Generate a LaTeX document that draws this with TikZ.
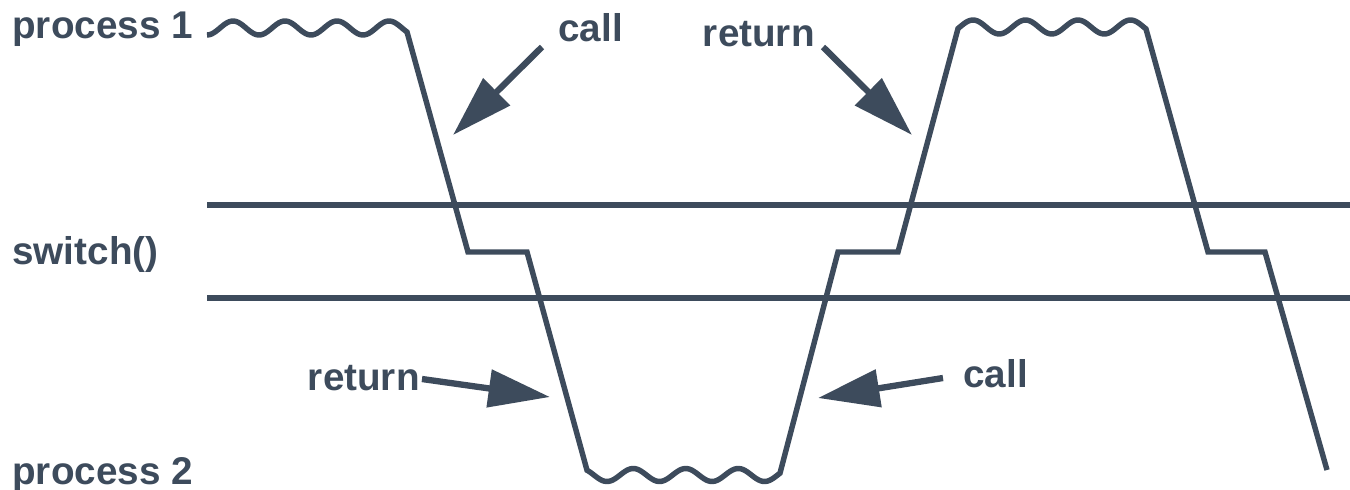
\documentclass[tikz,border=0pt]{standalone}
\usepackage{fontspec}
\setmainfont{Liberation Sans}
\usetikzlibrary{arrows.meta}

\definecolor{slate}{HTML}{3D4B5C}

\tikzstyle{every node}=[inner sep=0pt, text=slate, font=\fontsize{22}{26}\selectfont\bfseries]
\tikzstyle{trace}=[draw=slate, line width=3.1pt, line join=miter]
\tikzstyle{band}=[draw=slate, line width=3.1pt]
\tikzstyle{pointer}=[draw=slate, line width=3.6pt, -{Triangle[length=35pt, width=21pt]}]

\begin{document}
\begin{tikzpicture}[x=0.02cm, y=-0.02cm]
	\useasboundingbox (0,0) rectangle (1350,490);

    % Rows
    \node[anchor=base west] (proc1) at (12,38) {process 1};
    \node[anchor=base west] (sw) at (12,264) {switch()};
    \node[anchor=base west] (proc2) at (12,484) {process 2};

    % switch() band
    \draw[band] (207,205) -- (1350,205);
    \draw[band] (207,298) -- (1350,298);

    % Corners of the trace
    \coordinate (c1) at (468,252);
    \coordinate (c2) at (527,252);
    \coordinate (c3) at (838,252);
    \coordinate (c4) at (898,252);
    \coordinate (c5) at (1208,252);
    \coordinate (c6) at (1265,252);
    \coordinate (cEnd) at (1327,470);

    % Control passes 1 -> 2 -> 1 -> 2
    \draw[trace]
        plot[domain=207:407, samples=90, smooth] (\x,{28+7*cos(6.923*(\x-207))})
        -- (c1) -- (c2)
        -- plot[domain=587:780, samples=90, smooth] (\x,{475+6.5*cos(6.857*(\x-607))})
        -- (c3) -- (c4)
        -- plot[domain=958:1146, samples=90, smooth] (\x,{27-7*cos(6.857*(\x-973))})
        -- (c5) -- (c6) -- (cEnd);

    % Labels for call / return
    \node[anchor=base west] (call1) at (558,41) {call};
    \node[anchor=base east] (ret1) at (815,47) {return};
    \node[anchor=base east] (ret2) at (420,390) {return};
    \node[anchor=base west] (call2) at (963,387) {call};

    \coordinate (h1) at (453,135);
    \coordinate (h2) at (912,135);
    \coordinate (h3) at (550,397);
    \coordinate (h4) at (818,398);

    \draw[pointer] ([shift={(-16,6)}]call1.base west) -- (h1);
    \draw[pointer] ([shift={(8,0)}]ret1.base east) -- (h2);
    \draw[pointer] ([shift={(2,-11)}]ret2.base east) -- (h3);
    \draw[pointer] ([shift={(-20,-9)}]call2.base west) -- (h4);

\end{tikzpicture}
\end{document}
